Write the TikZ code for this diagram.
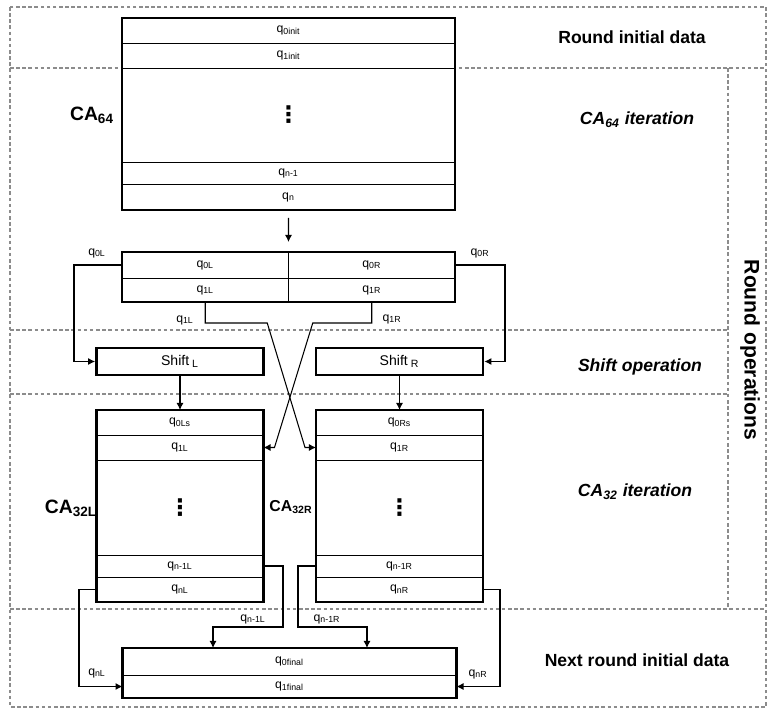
\documentclass[tikz,border=0pt]{standalone}
\usepackage{fontspec}
\setmainfont{Liberation Sans}
\newfontfamily\dotfont{DejaVu Sans}
\usetikzlibrary{arrows.meta}
\tikzset{
  cell/.style={draw, fill=white, line width=0.5pt, inner sep=0pt, outer sep=0pt, minimum width=#1, font=\fontsize{7}{8}\selectfont},
  frame/.style={line width=1.6pt},
  shiftbox/.style={draw, fill=white, line width=1.6pt, inner sep=0pt, minimum width=3.34cm, minimum height=0.54cm, font=\fontsize{8}{9}\selectfont},
  zone/.style={black!45, line width=0.7pt, dash pattern=on 2pt off 1.5pt},
  wire/.style={line width=0.6pt},
  feed/.style={wire, -{Latex[length=4pt,width=4pt]}},
  tag/.style={font=\fontsize{7}{8}\selectfont},
  phase/.style={font=\bfseries\fontsize{10}{12}\selectfont},
  caname/.style={font=\bfseries\fontsize{11}{12}\selectfont},
}
\newcommand{\rowdots}{{\dotfont\bfseries\fontsize{13}{14}\selectfont ⋮}}
\begin{document}
\begin{tikzpicture}[x=0.02cm, y=-0.02cm]
    \useasboundingbox (0,0) rectangle (767,709);
    % Dashed zones of one round.
        \draw[zone] (10,7) rectangle (766,707);
        \draw[zone] (10,68) -- (766,68);
        \draw[zone] (728,68) -- (728,609);
        \draw[zone] (10,330) -- (728,330);
        \draw[zone] (10,394) -- (728,394);
        \draw[zone] (10,609) -- (766,609);
    % CA64 register.
        \node[cell=6.66cm, minimum height=0.5cm] (q0init) at (288.5,30.5) {q\textsubscript{0init}};
        \node[cell=6.66cm, minimum height=0.5cm] (q1init) at (288.5,55.5) {q\textsubscript{1init}};
        \node[cell=6.66cm, minimum height=1.88cm] (dots64) at (288.5,115) {\rowdots};
        \node[cell=6.66cm, minimum height=0.44cm] (qn1) at (288.5,173) {q\textsubscript{n-1}};
        \node[cell=6.66cm, minimum height=0.52cm] (qn) at (288.5,197) {q\textsubscript{n}};
        \draw[frame] (q0init.north west) rectangle (qn.south east);
    % Split into halves.
        \node[cell=3.33cm, minimum height=0.52cm] (q0Lc) at (205.25,265) {q\textsubscript{0L}};
        \node[cell=3.33cm, minimum height=0.52cm] (q0Rc) at (371.75,265) {q\textsubscript{0R}};
        \node[cell=3.33cm, minimum height=0.48cm] (q1Lc) at (205.25,290) {q\textsubscript{1L}};
        \node[cell=3.33cm, minimum height=0.48cm] (q1Rc) at (371.75,290) {q\textsubscript{1R}};
        \draw[frame] (q0Lc.north west) rectangle (q1Rc.south east);
    % Shifts.
        \node[shiftbox] (shiftL) at (180,361.5) {Shift\textsubscript{ L}};
        \node[shiftbox] (shiftR) at (399.5,361.5) {Shift\textsubscript{ R}};
    % CA32 registers, left and right.
        \node[cell=3.34cm, minimum height=0.5cm] (q0Ls) at (180,422.5) {q\textsubscript{0Ls}};
        \node[cell=3.34cm, minimum height=0.5cm] (q1Lr) at (180,447.5) {q\textsubscript{1L}};
        \node[cell=3.34cm, minimum height=1.9cm] (dotsL) at (180,507.5) {\rowdots};
        \node[cell=3.34cm, minimum height=0.44cm] (qn1L) at (180,566) {q\textsubscript{n-1L}};
        \node[cell=3.34cm, minimum height=0.5cm] (qnLr) at (180,589.5) {q\textsubscript{nL}};
        \draw[frame] (q0Ls.north west) rectangle (qnLr.south east);
        \node[cell=3.34cm, minimum height=0.5cm] (q0Rs) at (399.5,422.5) {q\textsubscript{0Rs}};
        \node[cell=3.34cm, minimum height=0.5cm] (q1Rr) at (399.5,447.5) {q\textsubscript{1R}};
        \node[cell=3.34cm, minimum height=1.9cm] (dotsR) at (399.5,507.5) {\rowdots};
        \node[cell=3.34cm, minimum height=0.44cm] (qn1R) at (399.5,566) {q\textsubscript{n-1R}};
        \node[cell=3.34cm, minimum height=0.5cm] (qnRr) at (399.5,589.5) {q\textsubscript{nR}};
        \draw[frame] (q0Rs.north west) rectangle (qnRr.south east);
    % Next round register.
        \node[cell=6.68cm, minimum height=0.54cm] (q0fin) at (289.5,661.5) {q\textsubscript{0final}};
        \node[cell=6.68cm, minimum height=0.46cm] (q1fin) at (289.5,686.5) {q\textsubscript{1final}};
        \draw[frame] (q0fin.north west) rectangle (q1fin.south east);
    % Connectors.
        \draw[feed] ([yshift=-0.16cm]qn.south) -- ([yshift=0.2cm]q0Lc.north east);
        \draw[feed] (q0Lc.west) -- ++(-48,0) |- (shiftL.west);
        \draw[feed] (q0Rc.east) -- ++(50,0) |- (shiftR.east);
        \draw[feed] (shiftL.south) -- (q0Ls.north);
        \draw[feed] (shiftR.south) -- (q0Rs.north);
        \draw[feed] (q1Lc.south) -- ++(0,21) -- ++(62,0) -- ([xshift=-0.22cm]q1Rr.west) -- (q1Rr.west);
        \draw[feed] (q1Rc.south) -- ++(0,21) -- ++(-59,0) -- ([xshift=0.22cm]q1Lr.east) -- (q1Lr.east);
        \draw[feed] (qn1L.east) -- ++(19.5,0) -- ++(0,61) -| ([xshift=-1.53cm]q0fin.north);
        \draw[feed] (qn1R.west) -- ++(-18,0) -- ++(0,61) -| ([xshift=1.55cm]q0fin.north);
        \draw[feed] (qnLr.west) -- ++(-17.5,0) |- (q1fin.west);
        \draw[feed] (qnRr.east) -- ++(17,0) |- (q1fin.east);
    % Below nodes are the labels.
        \node[tag] (tq0L) at (97,253) {q\textsubscript{0L}};
        \node[tag] (tq0R) at (480,253) {q\textsubscript{0R}};
        \node[tag] (tq1L) at (185,320) {q\textsubscript{1L}};
        \node[tag] (tq1R) at (392,319) {q\textsubscript{1R}};
        \node[tag] (tqn1L) at (253,619) {q\textsubscript{n-1L}};
        \node[tag] (tqn1R) at (327,619) {q\textsubscript{n-1R}};
        \node[tag] (tqnL) at (97,673) {q\textsubscript{nL}};
        \node[tag] (tqnR) at (478,674) {q\textsubscript{nR}};
        \node[caname] (ca64) at (92,115) {CA\textsubscript{64}};
        \node[caname] (ca32L) at (71,508) {CA\textsubscript{32L}};
        \node[caname, font=\bfseries\fontsize{9}{10}\selectfont] (ca32R) at (291,507) {CA\textsubscript{32R}};
        \node[phase] (pinit) at (632,37) {Round initial data};
        \node[phase, font=\bfseries\itshape\fontsize{10}{12}\selectfont] (p64) at (637,120) {CA\textsubscript{64} iteration};
        \node[phase, font=\bfseries\itshape\fontsize{10}{12}\selectfont] (pshift) at (640,367) {Shift operation};
        \node[phase, font=\bfseries\itshape\fontsize{10}{12}\selectfont] (p32) at (635,492) {CA\textsubscript{32} iteration};
        \node[phase] (pnext) at (637,660) {Next round initial data};
        \node[phase, rotate=-90, font=\bfseries\fontsize{12}{14}\selectfont] (pround) at (750,350) {Round operations};
\end{tikzpicture}
\end{document}
